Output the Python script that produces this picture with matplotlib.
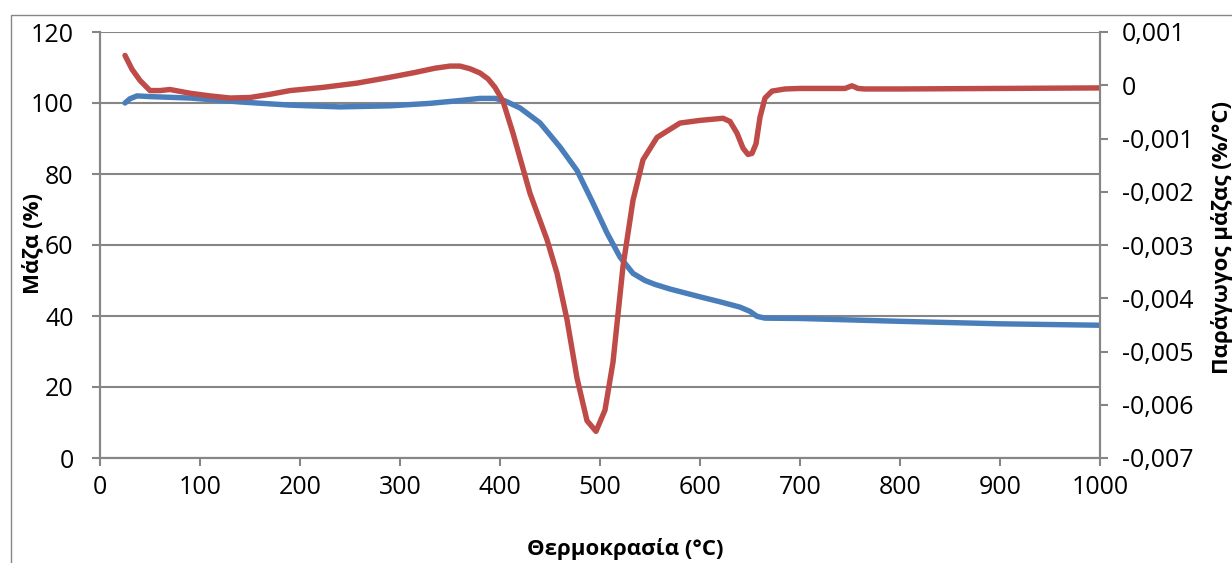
import matplotlib
matplotlib.use("Agg")
import matplotlib.pyplot as plt
from matplotlib.patches import Rectangle
from matplotlib.ticker import FuncFormatter

plt.rcParams['font.family'] = ['Open Sans', 'DejaVu Sans']

# mass curve (%)
temp_mass = [25, 30, 37, 50, 90, 140, 190, 240, 290, 330, 360, 380, 395, 405, 420,
             440, 460, 477, 493, 507, 520, 533, 545, 555, 570, 600, 620, 640, 650,
             657, 665, 700, 800, 900, 1000]
mass = [100, 101.2, 102, 101.8, 101.4, 100.3, 99.4, 98.9, 99.2, 99.9, 100.7,
        101.3, 101.3, 100.6, 98.6, 94.4, 87.6, 81, 71.8, 63.4, 56.6, 52, 50,
        48.9, 47.6, 45.4, 44, 42.5, 41.3, 39.9, 39.4, 39.3, 38.5, 37.8, 37.4]

# derivative curve (%/°C)
temp_deriv = [25, 32, 40, 50, 60, 70, 90, 110, 130, 150, 170, 190, 223, 257, 290,
              315, 335, 350, 360, 370, 380, 388, 395, 403, 413, 430, 447, 457, 467,
              477, 487, 496, 505, 513, 523, 533, 543, 557, 580, 600, 623, 630,
              637, 643, 648, 652, 656, 660, 665, 672, 685, 700, 745, 752, 758,
              765, 800, 900, 1000]
deriv = [0.00056, 0.0003, 0.00009, -0.0001, -0.0001, -0.00008, -0.00015, -0.0002,
         -0.00024, -0.00023, -0.00017, -0.0001, -0.00004, 0.00004, 0.00015,
         0.00024, 0.00032, 0.00036, 0.00036, 0.00031, 0.00023, 0.00012, -0.00004,
         -0.0003, -0.0009, -0.00203, -0.0029, -0.00353, -0.0044, -0.0055, -0.0063,
         -0.0065, -0.0061, -0.0052, -0.0034, -0.00216, -0.0014, -0.00098,
         -0.00071, -0.00066, -0.00062, -0.00068, -0.0009, -0.00118, -0.0013,
         -0.00128, -0.0011, -0.0006, -0.00024, -0.00011, -0.00007, -0.00006,
         -0.00006, -0.00001, -0.00006, -0.00007, -0.00007, -0.00006, -0.00005]

grey = '#868686'
fig = plt.figure(figsize=(12.32, 5.63), dpi=100)
fig.patches.append(Rectangle((11 / 1232, -0.2), 1.2, 0.2 + (563 - 15) / 563,
                             transform=fig.transFigure, fill=False,
                             edgecolor=grey, linewidth=1.0))

ax = fig.add_axes([100 / 1232, (563 - 458) / 563, 1000 / 1232, 426 / 563])
ax2 = ax.twinx()

ax.plot(temp_mass, mass, color='#4A7EBB', linewidth=3.9, solid_joinstyle='round',
        solid_capstyle='round')
ax2.plot(temp_deriv, deriv, color='#BE4B48', linewidth=3.9, solid_joinstyle='round',
         solid_capstyle='round')

ax.set_xlim(0, 1000)
ax.set_ylim(0, 120)
ax2.set_ylim(-0.007, 0.001)
ax.set_xticks(range(0, 1001, 100))
ax.set_yticks(range(0, 121, 20))
ax2.set_yticks([i * 0.001 for i in range(-7, 2)])
ax2.yaxis.set_major_formatter(FuncFormatter(
    lambda v, p: '0' if abs(v) < 1e-9 else ('%.3f' % v).replace('.', ',')))

ax.grid(axis='y', color=grey, linewidth=1.5)
ax.set_axisbelow(True)
for a in (ax, ax2):
    a.spines['top'].set_visible(False)
    for s in ('left', 'right', 'bottom'):
        a.spines[s].set_color(grey)
        a.spines[s].set_linewidth(1.5)
    a.tick_params(colors=grey, labelcolor='black', length=6, width=1.5,
                  labelsize=18, direction='out')
ax.tick_params(axis='y', pad=13)
ax.tick_params(axis='x', pad=6)
ax2.tick_params(axis='y', pad=10)

fig.text(33 / 1232, 1 - 244 / 563, 'Μάζα (%)', fontsize=16, fontweight='bold',
         rotation=90, ha='center', va='center')
fig.text(1222 / 1232, 1 - 238 / 563, 'Παράγωγος μάζας (%/°C)', fontsize=16,
         fontweight='bold', rotation=90, ha='center', va='center')
fig.text(625 / 1232, 1 - 549 / 563, 'Θερμοκρασία (°C)', fontsize=16,
         fontweight='bold', ha='center', va='center')

fig.savefig('out.png', dpi=100)
